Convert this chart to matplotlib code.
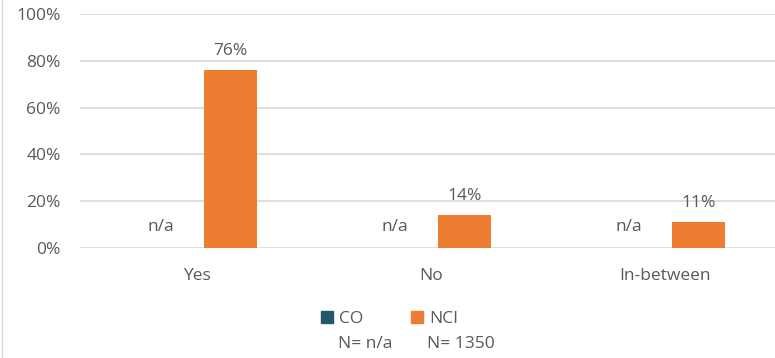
import matplotlib
matplotlib.use("Agg")
import matplotlib.pyplot as plt
from matplotlib.patches import Rectangle
from matplotlib.lines import Line2D
import numpy as np

# --- dane ---
categories = ["Yes", "No", "In-between"]
co_values = [0, 0, 0]          # brak danych dla CO (n/a)
nci_values = [76, 14, 11]
co_labels = ["n/a", "n/a", "n/a"]
nci_labels = ["76%", "14%", "11%"]
legend_names = ["CO", "NCI"]
legend_counts = ["N= n/a", "N= 1350"]

CO_COLOR = "#215968"
NCI_COLOR = "#ED7D31"
TEXT_COLOR = "#595959"
GRID_COLOR = "#D9D9D9"
FS = 12.5

plt.rcParams["font.family"] = ["Open Sans", "DejaVu Sans"]
plt.rcParams["font.size"] = FS

fig = plt.figure(figsize=(7.75, 3.58), dpi=100)
# os X wychodzi lekko poza prawą krawędź (jak w oryginale)
ax = fig.add_axes([80 / 775, 1 - 248 / 358, (782 - 80) / 775, (248 - 14) / 358])

x = np.arange(len(categories))
width = 0.23
offset = 0.143

ax.bar(x - offset, co_values, width, color=CO_COLOR)
bars = ax.bar(x + offset, nci_values, width, color=NCI_COLOR)

for xi, lab in zip(x, co_labels):
    ax.text(xi - offset - 0.01, 9, lab, ha="center", va="center", color=TEXT_COLOR, fontsize=FS)

for b, lab in zip(bars, nci_labels):
    ax.annotate(lab, (b.get_x() + b.get_width() / 2, b.get_height()),
                xytext=(0, 8), textcoords="offset points",
                ha="center", va="bottom", color=TEXT_COLOR, fontsize=FS)

ax.set_xlim(-0.5, len(categories) - 0.5)
ax.set_ylim(0, 100)
ax.set_yticks(range(0, 101, 20))
ax.set_yticklabels([f"{v}%" for v in range(0, 101, 20)])
ax.set_xticks(x)
ax.set_xticklabels(categories)
ax.tick_params(axis="both", length=0, colors=TEXT_COLOR, labelsize=FS)
ax.tick_params(axis="y", pad=14)
ax.tick_params(axis="x", pad=14.5)

ax.grid(axis="y", color=GRID_COLOR, linewidth=1.2)
ax.set_axisbelow(True)
for s in ax.spines.values():
    s.set_visible(False)

# legenda na dole
fig.legend(handles=[Rectangle((0, 0), 1, 1, color=CO_COLOR), Rectangle((0, 0), 1, 1, color=NCI_COLOR)],
           labels=legend_names, ncol=2, frameon=False, loc="center left",
           bbox_to_anchor=(321 / 775, 1 - 319 / 358), handlelength=0.7, handleheight=0.7,
           handletextpad=0.35, columnspacing=2.75, labelcolor=TEXT_COLOR, fontsize=FS,
           borderpad=0, borderaxespad=0)
fig.text(338 / 775, 1 - 344 / 358, legend_counts[0], ha="left", va="center", color=TEXT_COLOR, fontsize=FS)
fig.text(427 / 775, 1 - 344 / 358, legend_counts[1], ha="left", va="center", color=TEXT_COLOR, fontsize=FS)

# cienka ramka wykresu z lewej
fig.add_artist(Line2D([0.003, 0.003], [0, 1], color=GRID_COLOR, linewidth=1, transform=fig.transFigure))

fig.savefig("out.png", dpi=100)
